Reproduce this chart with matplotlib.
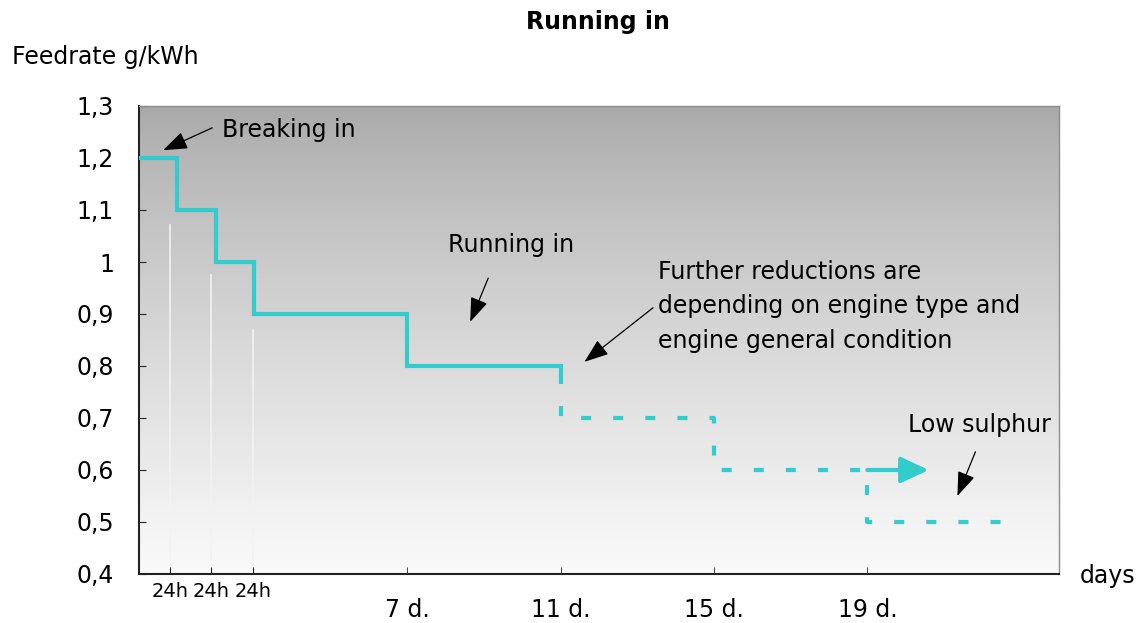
import numpy as np
import matplotlib.pyplot as plt

# step data (days vs. feed rate g/kWh)
solid_days = [0, 1, 1, 2, 2, 3, 3, 7, 7, 11, 11]
solid_rate = [1.2, 1.2, 1.1, 1.1, 1.0, 1.0, 0.9, 0.9, 0.8, 0.8, 0.785]
dash_days = [11, 11, 15, 15, 19, 19, 22.55]
dash_rate = [0.785, 0.7, 0.7, 0.6, 0.6, 0.5, 0.5]
arrow_days = [19, 20.6]
arrow_rate = [0.6, 0.6]

# x ticks
hour_ticks = [0.82, 1.87, 2.97]
hour_labels = ["24h", "24h", "24h"]
day_ticks = [7, 11, 15, 19]
day_labels = ["7 d.", "11 d.", "15 d.", "19 d."]
# light drop lines under the first steps
drop_tops = [1.071, 0.975, 0.87]

y_ticks = [0.4, 0.5, 0.6, 0.7, 0.8, 0.9, 1.0, 1.1, 1.2, 1.3]
y_labels = ["0,4", "0,5", "0,6", "0,7", "0,8", "0,9", "1", "1,1", "1,2", "1,3"]

teal = "#33CCCC"
plt.rcParams['font.family'] = ['DejaVu Sans']

fig = plt.figure(figsize=(11.41, 6.23), dpi=100)
ax = fig.add_axes([139 / 1141, 49 / 623, 920 / 1141, 468 / 623])

# gray gradient background, dark at the top
grad = np.linspace(0, 1, 256).reshape(-1, 1)
top = np.array([0.66, 0.66, 0.66])
bot = np.array([0.98, 0.98, 0.98])
img = top + (bot - top) * grad[..., None] ** 0.8
img = img * np.ones((256, 2, 3))
ax.imshow(img, extent=[0, 24, 0.4, 1.3], origin='upper', aspect='auto', zorder=0)
ax.set_xlim(0, 24)
ax.set_ylim(0.4, 1.3)

for xt, yt in zip(hour_ticks, drop_tops):
    ax.plot([xt, xt], [0.427, yt], color="#F2F2F2", lw=1.2, zorder=1)

ax.plot(solid_days, solid_rate, color=teal, lw=3, solid_capstyle='butt',
        solid_joinstyle='miter', zorder=3)
ax.plot(dash_days, dash_rate, color=teal, lw=3, dashes=(2.4, 5.3),
        dash_capstyle='butt', zorder=3)
ax.annotate('', xy=(arrow_days[1], arrow_rate[1]), xytext=(arrow_days[0], arrow_rate[0]),
            arrowprops=dict(arrowstyle='-|>,head_length=1.7,head_width=0.8', color=teal,
                            lw=3, shrinkA=0, shrinkB=0, mutation_scale=10), zorder=3)

# annotations
fs = 17
arr = dict(arrowstyle='-|>,head_length=1.5,head_width=0.55', color='black', lw=0.9,
           shrinkA=0, shrinkB=0, mutation_scale=10)
ax.annotate('', xy=(0.63, 1.215), xytext=(1.91, 1.258), arrowprops=arr)
ax.text(2.17, 1.254, "Breaking in", fontsize=fs, va='center', ha='left')

ax.text(8.07, 1.033, "Running in", fontsize=fs, va='center', ha='left')
ax.annotate('', xy=(8.64, 0.885), xytext=(9.11, 0.969), arrowprops=arr)

further = ["Further reductions are", "depending on engine type and",
           "engine general condition"]
for i, line in enumerate(further):
    ax.text(13.55, 0.981 - i * 0.0665, line, fontsize=fs, va='center', ha='left')
ax.annotate('', xy=(11.62, 0.808), xytext=(13.41, 0.912), arrowprops=arr)

ax.text(20.07, 0.686, "Low sulphur", fontsize=fs, va='center', ha='left')
ax.annotate('', xy=(21.35, 0.55), xytext=(21.82, 0.635), arrowprops=arr)

# axes styling
for s in ['top', 'right']:
    ax.spines[s].set_color('#8C8C8C')
    ax.spines[s].set_linewidth(1)
for s in ['left', 'bottom']:
    ax.spines[s].set_color('#222222')
    ax.spines[s].set_linewidth(1.5)

ax.set_yticks(y_ticks)
ax.set_yticklabels(y_labels, fontsize=fs)
ax.tick_params(axis='y', direction='in', length=5, pad=18, color='#222222')

ax.set_xticks(hour_ticks)
ax.set_xticklabels(hour_labels, fontsize=14)
ax.set_xticks(day_ticks, minor=True)
ax.set_xticklabels(day_labels, minor=True, fontsize=fs)
ax.tick_params(axis='x', which='major', direction='in', length=5, pad=6, color='#222222')
ax.tick_params(axis='x', which='minor', direction='in', length=5, pad=17, color='#222222')

fig.text(598 / 1141, 1 - 22 / 623, "Running in", fontsize=17, fontweight='bold',
         ha='center', va='center')
fig.text(12 / 1141, 1 - 57 / 623, "Feedrate g/kWh", fontsize=fs, ha='left', va='center')
fig.text(1080 / 1141, 1 - 576 / 623, "days", fontsize=fs, ha='left', va='center')

fig.savefig("out.png", dpi=100)
